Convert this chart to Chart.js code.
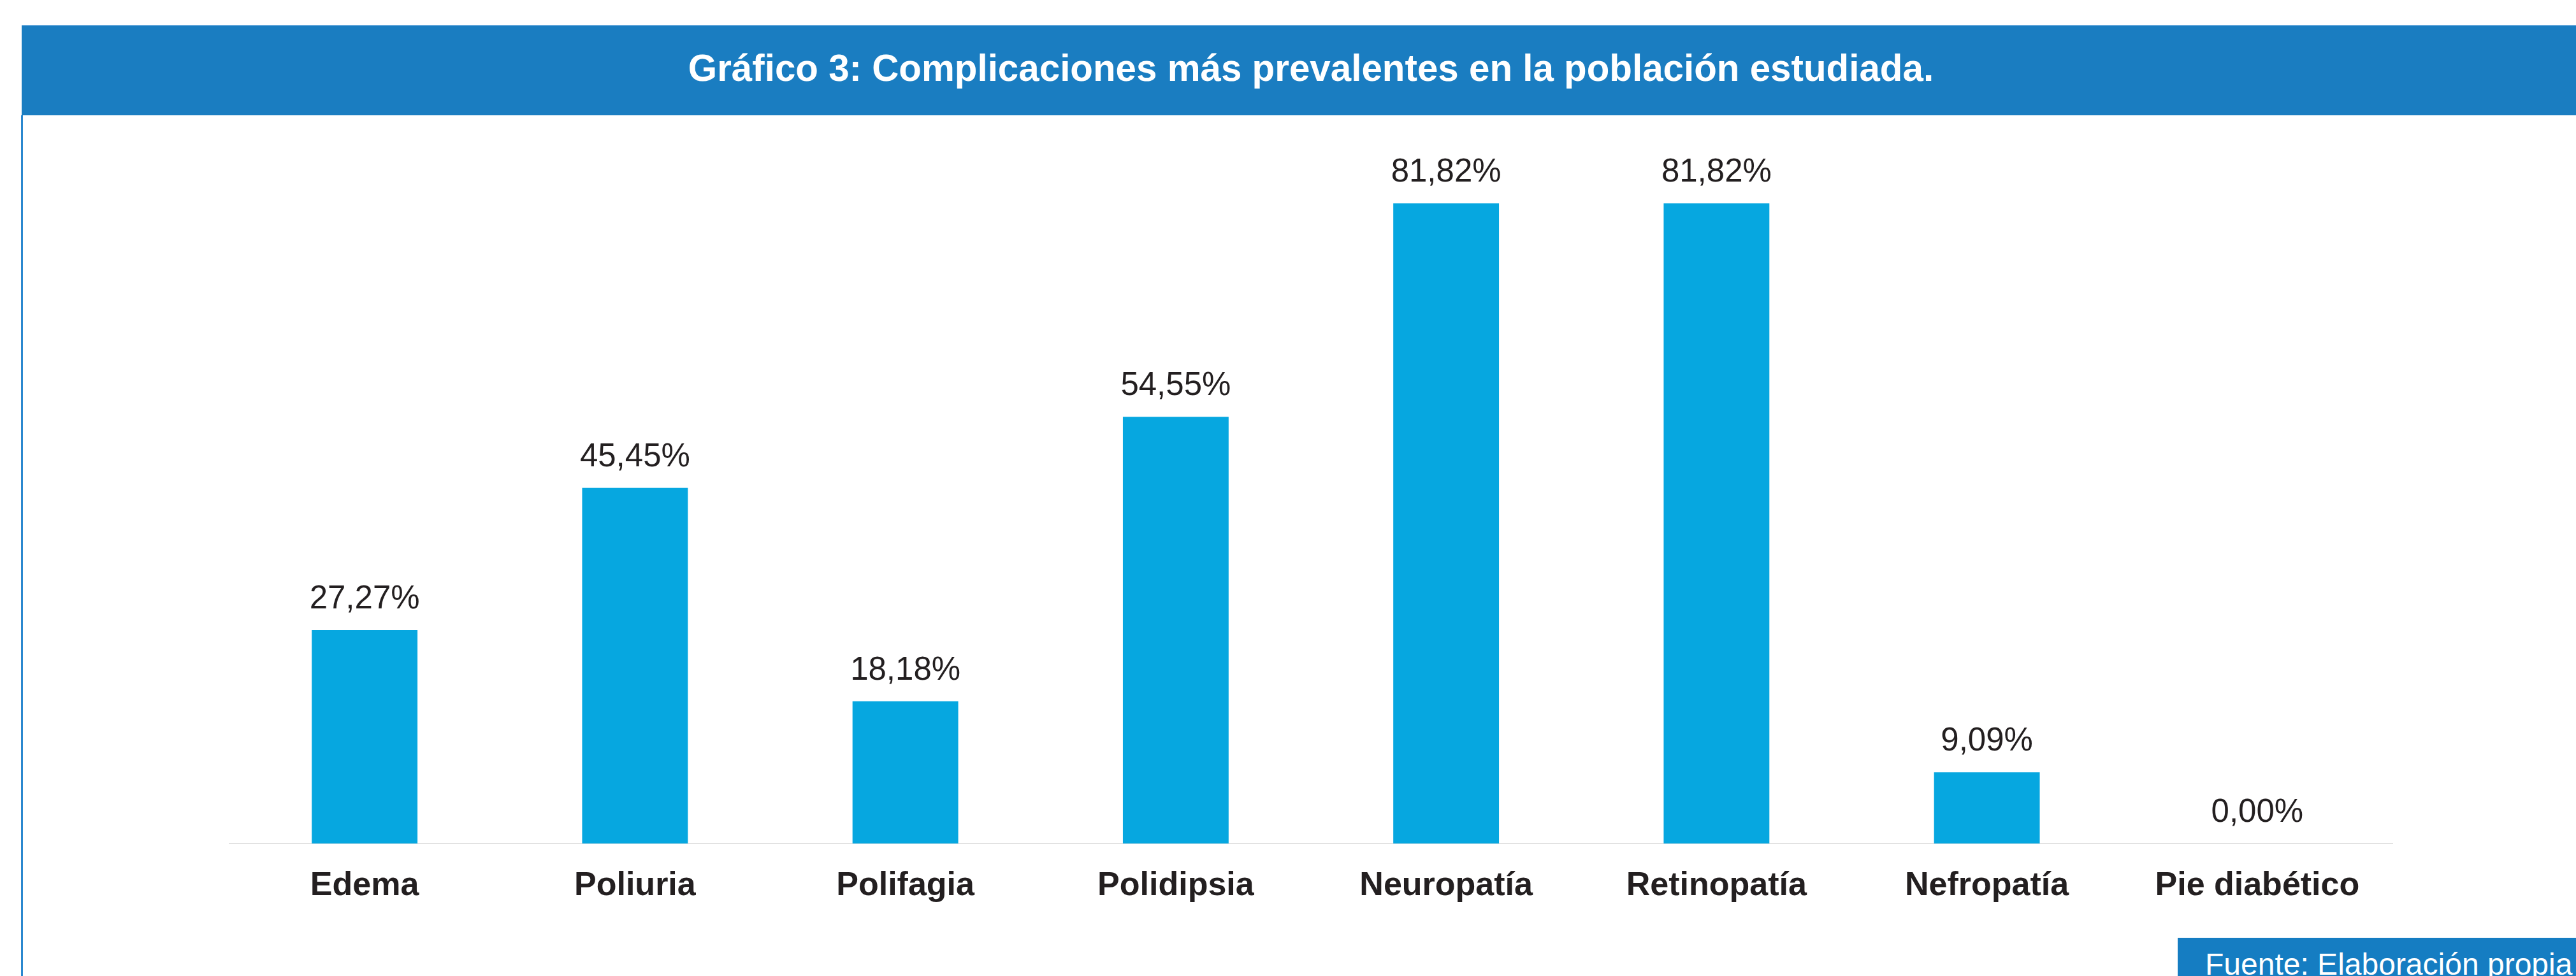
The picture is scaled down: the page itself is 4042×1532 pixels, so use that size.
<!DOCTYPE html>
<html>
<head>
<meta charset="utf-8">
<script src="https://cdn.jsdelivr.net/npm/chart.js@4.4.0/dist/chart.umd.min.js"></script>
<style>
html,body{margin:0;padding:0;width:4042px;height:1532px;overflow:hidden;background:#ffffff;font-family:"Liberation Sans",Arial,sans-serif;}
#chart{position:absolute;left:0;top:0;z-index:1;}
#titlebar{position:absolute;left:34px;top:39px;width:4044px;height:142px;background:#1a7dc1;border-top:2px solid #5da3d8;box-sizing:border-box;z-index:2;}
#titletext{position:absolute;left:34px;top:77px;width:4044px;height:60px;line-height:60px;text-align:center;color:#ffffff;font-weight:bold;font-size:60px;z-index:3;white-space:nowrap;transform:scaleX(0.972);transform-origin:2056px 0;}
#leftborder{position:absolute;left:33px;top:181px;width:3px;height:1351px;background:#2b88cf;z-index:2;}
#sourcebox{position:absolute;left:3417px;top:1472px;width:700px;height:120px;background:#157dc2;z-index:2;}
#sourcetext{position:absolute;left:3460px;top:1490px;line-height:48px;font-size:48px;color:#ffffff;white-space:nowrap;z-index:3;}
</style>
</head>
<body>
<div id="titlebar"></div>
<div id="titletext">Gráfico 3: Complicaciones más prevalentes en la población estudiada.</div>
<div id="leftborder"></div>
<canvas id="chart" width="4042" height="1532"></canvas>
<div id="sourcebox"></div>
<div id="sourcetext">Fuente: Elaboración propia</div>
<script>
const categories = ["Edema", "Poliuria", "Polifagia", "Polidipsia", "Neuropatía", "Retinopatía", "Nefropatía", "Pie diabético"];
const percentages = [27.27, 45.45, 18.18, 54.55, 81.82, 81.82, 9.09, 0.00];
const valueLabels = percentages.map(v => v.toFixed(2).replace('.', ',') + '%');

const barColor = '#06a7e0';
const textColor = '#231f20';
const fontFamily = '"Liberation Sans", Arial, sans-serif';

const valueLabelPlugin = {
  id: 'valueLabelPlugin',
  afterDatasetsDraw(chart) {
    const ctx = chart.ctx;
    const meta = chart.getDatasetMeta(0);
    ctx.save();
    ctx.font = '51px ' + fontFamily;
    ctx.fillStyle = textColor;
    ctx.textAlign = 'center';
    ctx.textBaseline = 'alphabetic';
    meta.data.forEach((bar, i) => {
      ctx.fillText(valueLabels[i], bar.x, bar.y - 34);
    });
    ctx.restore();
  }
};

new Chart(document.getElementById('chart'), {
  type: 'bar',
  data: {
    labels: categories,
    datasets: [{
      data: percentages,
      backgroundColor: barColor,
      borderWidth: 0,
      categoryPercentage: 1.0,
      barPercentage: 0.391
    }]
  },
  options: {
    responsive: false,
    animation: false,
    devicePixelRatio: 1,
    layout: { padding: { left: 360, right: 288, top: 96, bottom: 0 } },
    plugins: {
      legend: { display: false },
      tooltip: { enabled: false },
      title: { display: false }
    },
    scales: {
      x: {
        grid: { display: false, drawTicks: false },
        border: { display: true, color: '#e2e2e2', width: 2 },
        ticks: {
          color: textColor,
          padding: 35,
          font: { family: fontFamily, size: 52, weight: 'bold' },
          maxRotation: 0,
          autoSkip: false
        },
        afterFit(scale) { scale.height = 208; }
      },
      y: {
        display: false,
        min: 0,
        max: 100
      }
    }
  },
  plugins: [valueLabelPlugin]
});
</script>
</body>
</html>
